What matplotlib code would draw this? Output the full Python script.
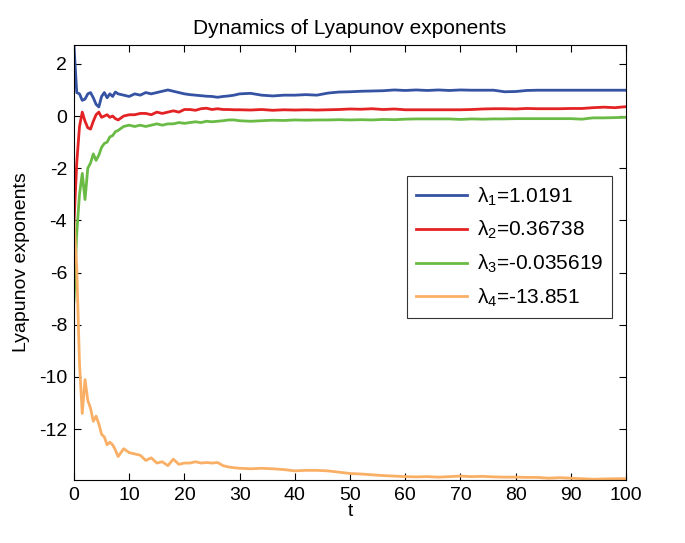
import matplotlib
matplotlib.use("Agg")
import matplotlib.pyplot as plt

# time samples (dense at the start, coarser later)
t = [0, 0.5, 1, 1.5, 2, 2.5, 3, 3.5, 4, 4.5, 5, 5.5, 6, 6.5, 7, 7.5, 8,
     9, 10, 11, 12, 13, 14, 15, 16, 17, 18, 19, 20, 21, 22, 23, 24, 25,
     26, 27, 28, 29, 30,
     32, 34, 36, 38, 40, 42, 44, 46, 48, 50, 52, 54, 56, 58, 60, 62, 64,
     66, 68, 70, 72, 74, 76, 78, 80, 82, 84, 86, 88, 90, 92, 94, 96, 98, 100]

lam1 = [2.7, 0.9, 0.85, 0.6, 0.65, 0.85, 0.9, 0.7, 0.45, 0.35, 0.75, 0.9, 0.7,
        0.85, 0.75, 0.92, 0.85,
        0.8, 0.75, 0.85, 0.8, 0.9, 0.85, 0.9, 0.95, 1.0, 0.95, 0.9, 0.85, 0.82,
        0.8, 0.78, 0.76, 0.75, 0.72, 0.75, 0.77, 0.8, 0.85,
        0.87, 0.8, 0.77, 0.8, 0.8, 0.82, 0.8, 0.88, 0.92, 0.93, 0.95, 0.96,
        0.97, 1.0, 0.98, 1.0, 0.98, 1.0, 0.98, 1.0, 0.99, 0.99, 0.99, 0.93,
        0.94, 0.98, 0.99, 0.99, 0.99, 0.99, 0.99, 0.99, 0.99, 0.99, 0.99]

lam2 = [-4.1, -1.8, -0.4, 0.15, -0.2, -0.45, -0.5, -0.2, 0.05, 0.15, -0.05,
        0.0, 0.05, -0.05, 0.0, -0.1, -0.15,
        0.0, 0.05, 0.05, 0.1, 0.1, 0.05, 0.15, 0.1, 0.15, 0.2, 0.15, 0.25, 0.25,
        0.22, 0.28, 0.3, 0.25, 0.28, 0.25, 0.25, 0.24, 0.24,
        0.23, 0.25, 0.22, 0.24, 0.23, 0.24, 0.23, 0.24, 0.25, 0.27, 0.26, 0.28,
        0.25, 0.27, 0.24, 0.24, 0.24, 0.24, 0.24, 0.24, 0.25, 0.27, 0.28, 0.28,
        0.27, 0.29, 0.28, 0.28, 0.28, 0.29, 0.29, 0.32, 0.34, 0.32, 0.36]

lam3 = [-7.1, -4.5, -3.0, -2.2, -3.2, -2.0, -1.8, -1.45, -1.7, -1.5, -1.2,
        -1.05, -1.0, -0.8, -0.75, -0.6, -0.55,
        -0.4, -0.35, -0.4, -0.35, -0.4, -0.35, -0.3, -0.35, -0.3, -0.3, -0.25,
        -0.28, -0.25, -0.22, -0.25, -0.2, -0.22, -0.2, -0.18, -0.15, -0.15, -0.18,
        -0.2, -0.18, -0.16, -0.17, -0.15, -0.16, -0.15, -0.15, -0.14, -0.15,
        -0.14, -0.15, -0.13, -0.14, -0.12, -0.11, -0.11, -0.11, -0.11, -0.13,
        -0.11, -0.12, -0.11, -0.11, -0.1, -0.1, -0.1, -0.1, -0.1, -0.1, -0.12,
        -0.07, -0.07, -0.06, -0.05]

lam4 = [-4.0, -5.8, -9.5, -11.4, -10.1, -10.9, -11.2, -11.7, -11.5, -11.8,
        -12.2, -12.3, -12.6, -12.5, -12.6, -12.8, -13.05,
        -12.75, -12.9, -12.95, -13.0, -13.2, -13.1, -13.3, -13.25, -13.4, -13.15,
        -13.35, -13.3, -13.3, -13.25, -13.3, -13.28, -13.3, -13.28, -13.4, -13.45,
        -13.48, -13.5,
        -13.52, -13.5, -13.52, -13.55, -13.6, -13.58, -13.58, -13.6, -13.65,
        -13.7, -13.72, -13.75, -13.78, -13.8, -13.82, -13.83, -13.82, -13.84,
        -13.82, -13.8, -13.82, -13.81, -13.83, -13.84, -13.84, -13.85, -13.85,
        -13.88, -13.86, -13.88, -13.9, -13.92, -13.91, -13.9, -13.9]

labels = [r"$\lambda_1$=1.0191", r"$\lambda_2$=0.36738",
          r"$\lambda_3$=-0.035619", r"$\lambda_4$=-13.851"]
colors = ["#3552a3", "#e32224", "#6abb45", "#f9b066"]

plt.rcParams["font.family"] = ["Liberation Sans", "DejaVu Sans"]
plt.rcParams["mathtext.fontset"] = "custom"
plt.rcParams["mathtext.rm"] = "Liberation Sans"
plt.rcParams["mathtext.it"] = "Liberation Sans"
plt.rcParams["axes.unicode_minus"] = False

fig = plt.figure(figsize=(6.85, 5.43), dpi=100)
ax = fig.add_axes([0.108, 0.116, 0.806, 0.801])

for ys, c, lab in zip([lam1, lam2, lam3, lam4], colors, labels):
    ax.plot(t, ys, color=c, lw=2.0, label=lab)

ax.set_xlim(0, 100)
ax.set_ylim(-13.95, 2.72)
ax.set_xticks(range(0, 101, 10))
ax.set_yticks([2, 0, -2, -4, -6, -8, -10, -12])
ax.tick_params(direction="in", top=True, right=True, labelsize=14,
               length=5, pad=5)
for s in ax.spines.values():
    s.set_linewidth(0.8)

ax.set_title("Dynamics of Lyapunov exponents", fontsize=15, pad=8)
ax.set_xlabel("t", fontsize=14, labelpad=-1)
ax.set_ylabel("Lyapunov exponents", fontsize=14, labelpad=6)

leg = ax.legend(loc="upper left", bbox_to_anchor=(0.603, 0.699), fontsize=15,
                frameon=True, fancybox=False, edgecolor="black",
                handlelength=2.45, handletextpad=0.45, borderpad=0.45,
                borderaxespad=0, labelspacing=0.55)
leg.get_frame().set_linewidth(0.8)

fig.savefig("out.png", dpi=100)
